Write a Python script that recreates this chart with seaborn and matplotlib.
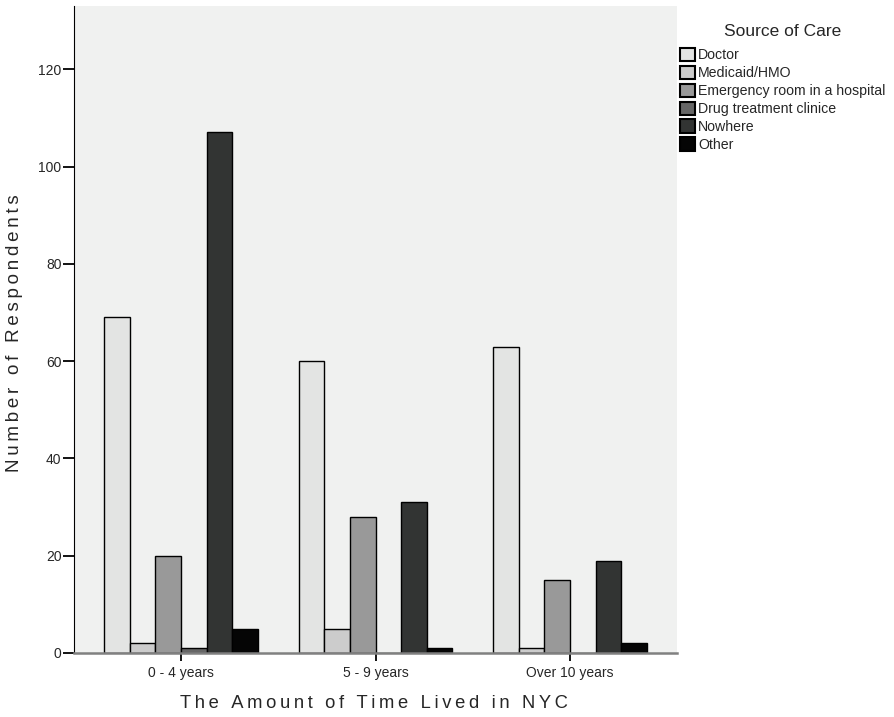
import pandas as pd
import matplotlib
matplotlib.use("Agg")
import matplotlib.pyplot as plt
import seaborn as sns

groups = ["0 - 4 years", "5 - 9 years", "Over 10 years"]
sources = ["Doctor", "Medicaid/HMO", "Emergency room in a hospital",
           "Drug treatment clinice", "Nowhere", "Other"]
doctor = [69, 60, 63]
medicaid = [2, 5, 1]
emergency = [20, 28, 15]
drug = [1, 0, 0]
nowhere = [107, 31, 19]
other = [5, 1, 2]
colors = ["#e3e4e3", "#cccccc", "#999999", "#666666", "#323433", "#050505"]

rows = []
for src, vals in zip(sources, [doctor, medicaid, emergency, drug, nowhere, other]):
    for g, v in zip(groups, vals):
        rows.append({"group": g, "source": src, "count": v})
df = pd.DataFrame(rows)

sns.set_style("ticks")
plt.rcParams['font.family'] = ['Liberation Sans', 'DejaVu Sans']

fig = plt.figure(figsize=(8.95, 7.17), dpi=100)
ax = fig.add_axes([74 / 895, 64 / 717, 603 / 895, 647 / 717])
ax.set_facecolor("#f0f1f0")

sns.barplot(data=df, x="group", y="count", hue="source", order=groups,
            hue_order=sources, palette=colors, width=0.79,
            edgecolor="black", linewidth=1, ax=ax)

ax.set_xlim(-0.55, 2.55)
ax.set_ylim(0, 133)
ax.set_yticks([0, 20, 40, 60, 80, 100, 120])
ax.tick_params(axis="y", labelsize=10, length=8, width=1.3, color="black", pad=1)
ax.tick_params(axis="x", labelsize=10, length=5.5, width=1.3, color="black", pad=4)
ax.spines["top"].set_visible(False)
ax.spines["right"].set_visible(False)
ax.spines["left"].set_color("black")
ax.spines["bottom"].set_color("#808080")
ax.spines["bottom"].set_linewidth(1.8)
ax.set_xlabel("")
ax.set_ylabel("")


def spaced(s):
    # SPSS draws axis titles with wide letter spacing
    return "\u2009".join(s)


fig.text(374 / 895, 1 - 703 / 717, spaced("The Amount of Time Lived in NYC"),
         fontsize=13.2, ha="center", va="center")
fig.text(15 / 895, 1 - 333 / 717, spaced("Number of Respondents"),
         fontsize=13.5, ha="center", va="center", rotation=90)

handles, labels = ax.get_legend_handles_labels()
leg = ax.legend(handles, labels, title="Source of Care", loc="upper left",
                bbox_to_anchor=(1.0, 0.976), frameon=False, fontsize=10.2,
                title_fontsize=12.5, handlelength=1.05, handleheight=1.05,
                handletextpad=0.25, labelspacing=0.25, borderaxespad=0,
                borderpad=0.2)
leg._legend_box.sep = 6
for h in leg.legend_handles:
    h.set_edgecolor("black")
    h.set_linewidth(1.5)

fig.savefig("out.png", dpi=100)
